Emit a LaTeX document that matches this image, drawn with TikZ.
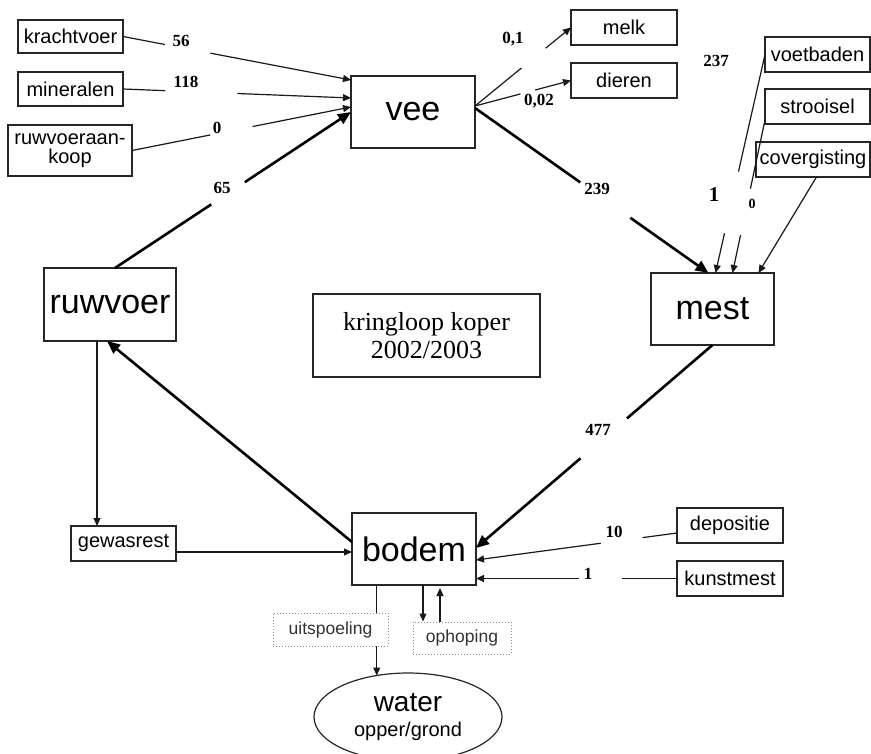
\documentclass[tikz,border=0pt]{standalone}
\usepackage{fontspec}
\setmainfont{Liberation Serif}
\setsansfont{Liberation Sans}
\usetikzlibrary{arrows.meta,shapes.geometric,calc}
\begin{document}
\begin{tikzpicture}[x=1pt,y=-1pt,
  box/.style={draw=black!85, line width=1.2pt, inner sep=0pt, outer sep=0pt, fill=white,
    font=\sffamily\fontsize{20}{19}\selectfont, align=center},
  bigbox/.style={box, minimum width=124pt, minimum height=72pt, font=\sffamily\fontsize{34}{36}\selectfont},
  smallbox/.style={box, minimum width=106pt, minimum height=35pt},
  dotbox/.style={draw=black!45, dotted, line width=1pt, fill=white, inner sep=0pt,
    font=\sffamily\fontsize{17.5}{19}\selectfont, text=black!80},
  num/.style={font=\rmfamily\bfseries\fontsize{17}{17}\selectfont, inner sep=0pt},
  arr/.style={line width=1.2pt, draw=black!90, -{Triangle[length=8pt,width=7pt]}},
  tarr/.style={line width=2.6pt, draw=black, -{Triangle[length=13pt,width=11pt]}},
  lgap/.style={sloped, fill=white, minimum height=9pt, inner sep=0pt, minimum width=#1},
]
\useasboundingbox[fill=white] (0,0) rectangle (871,754);

% nodes
\node[smallbox, minimum width=105pt, minimum height=33pt] (kv) at (70.5,36.5) {krachtvoer};
\node[smallbox, minimum width=105pt, minimum height=34pt] (min) at (70.5,89) {mineralen};
\node[smallbox, minimum width=124pt, minimum height=51pt] (rk) at (70,150.5) {ruwvoeraan-\\koop};
\node[bigbox] (vee) at (413,112) {vee};
\node[smallbox] (melk) at (624,27.5) {melk};
\node[smallbox] (dier) at (624,80.5) {dieren};
\node[smallbox, minimum width=105pt] (voet) at (817.5,54.5) {voetbaden};
\node[smallbox, minimum width=105pt] (stro) at (817.5,106.5) {strooisel};
\node[smallbox, minimum width=114pt] (cov) at (813,159.5) {covergisting};
\node[bigbox, minimum width=123pt] (mest) at (712.5,309) {mest};
\node[bigbox, minimum width=132pt, minimum height=73pt] (ruw) at (110,304.5) {ruwvoer};
\node[box, minimum width=227pt, minimum height=83pt, line width=2pt,
  font=\rmfamily\fontsize{26}{28}\selectfont] (kr) at (426.5,335.5) {kringloop koper\\2002/2003};
\node[smallbox, minimum width=105pt] (gew) at (123.5,543.5) {gewasrest};
\node[bigbox] (bod) at (414,549) {bodem};
\node[smallbox] (dep) at (730,525.5) {depositie};
\node[smallbox] (kun) at (730,578.5) {kunstmest};
\node[ellipse, draw=black!85, line width=1.2pt, minimum width=188pt, minimum height=88pt,
  inner sep=0pt, outer sep=0pt, align=center, font=\sffamily\fontsize{20}{25}\selectfont] (wat) at (408,717)
  {{\fontsize{28}{28}\selectfont water}\\opper/grond};
\node[dotbox, minimum width=98pt, minimum height=32pt] (oph) at (462,638) {ophoping};

% inputs to vee
\draw[arr] (kv.east) -- node[lgap=46pt, pos=0.284]{} ([yshift=-4pt]vee.north west);
\node[num] at (181,41) {56};
\draw[arr] (min.east) -- node[lgap=72pt, pos=0.344]{} ([yshift=-22pt]vee.north west);
\node[num] at (186,82) {118};
\draw[arr] (rk.east) -- node[lgap=43pt, pos=0.454]{} ([yshift=-31pt]vee.north west);
\node[num] at (217,128) {0};
\draw[tarr] ([xshift=5pt]ruw.north) -- node[lgap=40pt, pos=0.479]{} ([yshift=-36pt]vee.north west);
\node[num] at (222,188) {65};

% outputs of vee
\draw[arr] ([yshift=6pt]vee.east) -- node[lgap=31pt, pos=0.61]{} (melk.west);
\node[num] at (513,39) {0,1};
\draw[arr] ([yshift=6pt]vee.east) -- node[lgap=15pt, pos=0.55]{} (dier.west);
\node[num] at (539,101) {0,02};
\draw[tarr] ([yshift=4pt]vee.east) -- node[lgap=61pt, pos=0.558]{} ([xshift=-4pt]mest.north);
\node[num] at (597,189) {239};

% inputs to mest
\draw[arr] (voet.west) -- node[lgap=63pt, pos=0.677]{} ([xshift=3pt]mest.north);
\node[num] at (716,61) {237};
\node[num, font=\rmfamily\bfseries\fontsize{21}{21}\selectfont] at (714,195) {1};
\draw[arr] ([yshift=-13.5pt]stro.west) -- node[lgap=47pt, pos=0.6]{} ([xshift=20pt]mest.north);
\node[num, font=\rmfamily\bfseries\fontsize{14}{14}\selectfont] at (752,204) {0};
\draw[arr] ([xshift=3.5pt]cov.south) -- ([xshift=46pt]mest.north);

% mest to bodem
\draw[tarr] (mest.south) -- node[lgap=61pt, pos=0.46]{} ([yshift=1pt]bod.east);
\node[num] at (598,430) {477};

% bodem to ruwvoer
\draw[tarr] ([yshift=7pt]bod.west) -- ([xshift=-3pt]ruw.south);
\draw[arr] ([xshift=-13pt]ruw.south) -- ([xshift=-13pt]ruw.south |- gew.north);
\draw[arr] ([yshift=-8.5pt]gew.east) -- ([yshift=-8.5pt]gew.east -| bod.west);

% inputs to bodem
\draw[arr] ([yshift=-7.5pt]dep.west) -- node[lgap=42pt, pos=0.275]{} ([yshift=-11pt]bod.east);
\node[num] at (614,532) {10};
\draw[arr] (kun.west) -- node[lgap=43pt, pos=0.383]{} (kun.west -| bod.east);
\node[num] at (588,574) {1};

% bodem outputs
\draw[arr] (wat.127 |- bod.south) -- (wat.127);
\node[dotbox, minimum width=115pt, minimum height=33pt] (uit) at (330.5,629.5) {uitspoeling};
\draw[arr] ([xshift=9pt]bod.south) -- ([xshift=9pt]bod.south |- oph.north);
\draw[arr, shorten >=3pt] ([xshift=26pt]bod.south |- oph.north) -- ([xshift=26pt]bod.south);
\end{tikzpicture}
\end{document}
